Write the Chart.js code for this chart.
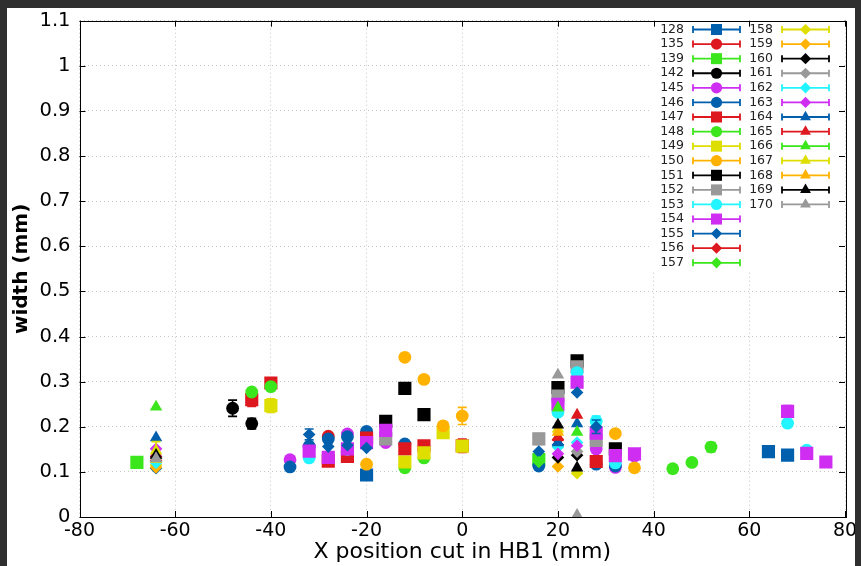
<!DOCTYPE html>
<html>
<head>
<meta charset="utf-8">
<script src="https://cdn.jsdelivr.net/npm/chart.js@4.4.0/dist/chart.umd.min.js"></script>
<style>
  html, body { margin: 0; padding: 0; background: #fff; }
  #wrap { position: relative; width: 861px; height: 566px; }
</style>
</head>
<body>
<div id="wrap"><canvas id="widthChart"></canvas></div>
<script>
// run numbers shown in the key
const runs = ['128', '135', '139', '142', '145', '146', '147', '148', '149', '150',
              '151', '152', '153', '154', '155', '156', '157', '158', '159', '160',
              '161', '162', '163', '164', '165', '166', '167', '168', '169', '170'];

// axis tick labels
const xTickLabels = ['-80', '-60', '-40', '-20', '0', '20', '40', '60', '80'];
const yTickLabels = ['0', '0.1', '0.2', '0.3', '0.4', '0.5', '0.6', '0.7', '0.8', '0.9', '1', '1.1'];

// per run: [x cut (mm), width (mm), error (mm)]
const r128 = [[-20, 0.093, 0], [64, 0.145, 0], [68, 0.137, 0]];
const r135 = [[-28, 0.179, 0], [-20, 0.176, 0]];
const r139 = [[-68, 0.121, 0], [16, 0.127, 0]];
const r142 = [[-48, 0.241, 0.018], [-44, 0.207, 0.012]];
const r145 = [[-36, 0.127, 0], [-32, 0.155, 0], [-24, 0.184, 0], [-16, 0.165, 0], [28, 0.151, 0], [32, 0.11, 0], [36, 0.135, 0]];
const r146 = [[-36, 0.111, 0], [-32, 0.157, 0], [-28, 0.173, 0], [-24, 0.178, 0], [-20, 0.19, 0], [-12, 0.162, 0], [16, 0.113, 0], [28, 0.117, 0], [32, 0.113, 0]];
const r147 = [[-44, 0.26, 0.015], [-40, 0.297, 0.01], [-28, 0.124, 0], [-24, 0.134, 0], [-20, 0.175, 0], [-12, 0.151, 0], [-8, 0.158, 0], [0, 0.158, 0.015], [28, 0.123, 0]];
const r148 = [[-44, 0.277, 0], [-40, 0.289, 0], [-12, 0.109, 0], [-8, 0.131, 0], [44, 0.107, 0], [48, 0.121, 0], [52, 0.155, 0.01]];
const r149 = [[-40, 0.247, 0.015], [-12, 0.122, 0], [-8, 0.142, 0], [-4, 0.187, 0], [0, 0.157, 0]];
const r150 = [[-20, 0.117, 0], [-12, 0.354, 0], [-8, 0.305, 0], [-4, 0.202, 0], [0, 0.224, 0.019], [32, 0.185, 0], [36, 0.109, 0]];
const r151 = [[-16, 0.212, 0], [-12, 0.285, 0], [-8, 0.227, 0], [20, 0.287, 0], [24, 0.346, 0], [32, 0.151, 0]];
const r152 = [[-16, 0.173, 0], [16, 0.173, 0.012], [20, 0.268, 0], [24, 0.333, 0], [28, 0.17, 0]];
const r153 = [[-32, 0.131, 0], [-24, 0.15, 0], [20, 0.232, 0], [24, 0.32, 0], [28, 0.212, 0.012], [32, 0.12, 0], [68, 0.208, 0], [72, 0.148, 0]];
const r154 = [[-32, 0.146, 0], [-28, 0.132, 0], [-24, 0.151, 0], [-20, 0.165, 0], [-16, 0.192, 0], [20, 0.25, 0], [24, 0.299, 0], [28, 0.186, 0], [32, 0.136, 0], [36, 0.14, 0], [68, 0.234, 0.013], [72, 0.141, 0], [76, 0.122, 0]];
const r155 = [[-64, 0.108, 0], [-32, 0.183, 0.012], [-28, 0.156, 0], [-24, 0.159, 0], [-20, 0.153, 0], [16, 0.145, 0], [20, 0.16, 0], [24, 0.276, 0], [28, 0.2, 0.015]];
const r156 = [[-64, 0.125, 0], [20, 0.172, 0]];
const r157 = [[-64, 0.122, 0], [16, 0.122, 0]];
const r158 = [[-64, 0.115, 0], [24, 0.097, 0]];
const r159 = [[-64, 0.11, 0], [20, 0.112, 0]];
const r160 = [[-64, 0.134, 0], [20, 0.132, 0], [24, 0.137, 0]];
const r161 = [[-64, 0.13, 0], [24, 0.145, 0]];
const r162 = [[-64, 0.12, 0], [20, 0.155, 0], [24, 0.165, 0]];
const r163 = [[-64, 0.151, 0], [20, 0.14, 0], [24, 0.158, 0]];
const r164 = [[-64, 0.176, 0], [20, 0.165, 0], [24, 0.207, 0]];
const r165 = [[-64, 0.14, 0], [20, 0.177, 0], [24, 0.226, 0]];
const r166 = [[-64, 0.244, 0], [20, 0.242, 0], [24, 0.188, 0]];
const r167 = [[-64, 0.147, 0.02], [20, 0.195, 0]];
const r168 = [[-64, 0.128, 0], [20, 0.188, 0]];
const r169 = [[-64, 0.137, 0], [20, 0.204, 0], [24, 0.109, 0]];
const r170 = [[-64, 0.13, 0], [20, 0.315, 0], [24, 0.004, 0]];

const runData = [r128, r135, r139, r142, r145, r146, r147, r148, r149, r150,
                 r151, r152, r153, r154, r155, r156, r157, r158, r159, r160,
                 r161, r162, r163, r164, r165, r166, r167, r168, r169, r170];

// gnuplot-like line types
const BLUE = '#0060ad', RED = '#dd181f', GREEN = '#3ce61c', BLACK = '#000000',
      MAGENTA = '#cf2df2', YELLOW = '#dede00', ORANGE = '#ffb300', GRAY = '#999999', CYAN = '#22f5ff';
const runColors = [BLUE, RED, GREEN, BLACK, MAGENTA, BLUE, RED, GREEN, YELLOW, ORANGE,
                   BLACK, GRAY, CYAN, MAGENTA, BLUE, RED, GREEN, YELLOW, ORANGE, BLACK,
                   GRAY, CYAN, MAGENTA, BLUE, RED, GREEN, YELLOW, ORANGE, BLACK, GRAY];
const runShapes = ['rect', 'circle', 'rect', 'circle', 'circle', 'circle', 'rect', 'circle', 'rect', 'circle',
                   'rect', 'rect', 'circle', 'rect', 'rectRot', 'rectRot', 'rectRot', 'rectRot', 'rectRot', 'rectRot',
                   'rectRot', 'rectRot', 'rectRot', 'triangle', 'triangle', 'triangle', 'triangle', 'triangle', 'triangle', 'triangle'];

const shapeSize = { rect: 9.3, circle: 6.4, rectRot: 6.3, triangle: 7.2 };
const keySize = { rect: 7.8, circle: 5.6, rectRot: 5.6, triangle: 6.3 };

const datasets = runs.map((run, i) => ({
    label: run,
    data: runData[i].map(p => ({ x: p[0], y: p[1], err: p[2] })),
    pointStyle: runShapes[i],
    pointRadius: shapeSize[runShapes[i]],
    backgroundColor: runColors[i],
    borderColor: runColors[i],
    borderWidth: 0,
    order: -i   // later runs on top
}));

// error bars, frame with inward ticks, opaque key
const gnuplotLook = {
    id: 'gnuplotLook',
    afterDatasetDraw(chart, args) {
        const ctx = chart.ctx;
        const yScale = chart.scales.y;
        const ds = chart.data.datasets[args.index];
        ctx.save();
        ctx.strokeStyle = ds.borderColor;
        ctx.lineWidth = 1.6;
        args.meta.data.forEach((el, j) => {
            const p = ds.data[j];
            if (!p.err) return;
            const top = yScale.getPixelForValue(p.y + p.err);
            const bot = yScale.getPixelForValue(p.y - p.err);
            ctx.beginPath();
            ctx.moveTo(el.x, top); ctx.lineTo(el.x, bot);
            ctx.moveTo(el.x - 4.5, top); ctx.lineTo(el.x + 4.5, top);
            ctx.moveTo(el.x - 4.5, bot); ctx.lineTo(el.x + 4.5, bot);
            ctx.stroke();
        });
        ctx.restore();
    },
    beforeDatasetsDraw(chart) {
        // key box hides the grid behind it
        const ctx = chart.ctx;
        ctx.save();
        ctx.fillStyle = '#fff';
        ctx.fillRect(651, 19, 190, 253);
        ctx.restore();
    },
    afterDraw(chart) {
        const ctx = chart.ctx;
        const a = chart.chartArea;
        const xs = chart.scales.x, ys = chart.scales.y;
        ctx.save();

        // border
        ctx.strokeStyle = '#000';
        ctx.lineWidth = 1;
        ctx.strokeRect(Math.round(a.left) + 0.5, Math.round(a.top) + 0.5,
                       Math.round(a.right - a.left), Math.round(a.bottom - a.top));

        // inward major ticks on all four sides
        ctx.beginPath();
        xs.ticks.forEach(t => {
            const px = Math.round(xs.getPixelForValue(t.value)) + 0.5;
            ctx.moveTo(px, a.bottom); ctx.lineTo(px, a.bottom - 6);
            ctx.moveTo(px, a.top); ctx.lineTo(px, a.top + 6);
        });
        ys.ticks.forEach(t => {
            const py = Math.round(ys.getPixelForValue(t.value)) + 0.5;
            ctx.moveTo(a.left, py); ctx.lineTo(a.left + 6, py);
            ctx.moveTo(a.right, py); ctx.lineTo(a.right - 6, py);
        });
        ctx.stroke();

        // key: two columns, 17 rows in the first
        ctx.font = '12.5px "DejaVu Sans"';
        ctx.textAlign = 'right';
        ctx.textBaseline = 'middle';
        runs.forEach((run, i) => {
            const col = i < 17 ? 0 : 1;
            const row = col ? i - 17 : i;
            const y = 29.5 + row * 14.58;
            const textRight = col ? 773 : 684;
            const x0 = col ? 782 : 693;
            const x1 = col ? 829 : 740;
            ctx.fillStyle = '#222';
            ctx.fillText(run, textRight, y);
            ctx.strokeStyle = runColors[i];
            ctx.lineWidth = 1.8;
            ctx.beginPath();
            ctx.moveTo(x0, y); ctx.lineTo(x1, y);
            ctx.moveTo(x0, y - 3.5); ctx.lineTo(x0, y + 3.5);
            ctx.moveTo(x1, y - 3.5); ctx.lineTo(x1, y + 3.5);
            ctx.stroke();
            ctx.fillStyle = runColors[i];
            Chart.helpers.drawPoint(ctx, {
                pointStyle: runShapes[i], radius: keySize[runShapes[i]], rotation: 0, borderWidth: 0
            }, (x0 + x1) / 2, y);
        });

        // dark window edges
        ctx.fillStyle = '#2f2f2f';
        ctx.fillRect(0, 0, chart.width, 8);
        ctx.fillRect(0, 0, 7, chart.height);
        ctx.fillRect(855, 0, chart.width - 855, chart.height);
        ctx.restore();
    }
};

const gridStyle = { color: '#c4c4c4', lineWidth: 1, drawTicks: false };

new Chart(document.getElementById('widthChart'), {
    type: 'scatter',
    data: { datasets: datasets },
    options: {
        responsive: true,
        maintainAspectRatio: false,
        animation: false,
        layout: { padding: { left: 0, right: 16, top: 17, bottom: 0 } },
        plugins: {
            legend: { display: false },
            tooltip: { enabled: false }
        },
        scales: {
            x: {
                min: -80,
                max: 80,
                afterBuildTicks: scale => { scale.ticks = xTickLabels.map(v => ({ value: parseFloat(v) })); },
                afterFit: scale => { scale.height = 49; },
                grid: gridStyle,
                border: { display: false, dash: [1, 3] },
                ticks: {
                    padding: 3,
                    color: '#000',
                    font: { family: 'DejaVu Sans', size: 19 },
                    maxRotation: 0,
                    callback: (v, i) => xTickLabels[i]
                },
                title: {
                    display: true,
                    text: 'X position cut in HB1 (mm)',
                    color: '#000',
                    font: { family: 'DejaVu Sans', size: 22 },
                    padding: { top: 0, bottom: 1 }
                }
            },
            y: {
                min: 0,
                max: 1.1,
                afterBuildTicks: scale => { scale.ticks = yTickLabels.map(v => ({ value: parseFloat(v) })); },
                afterFit: scale => { scale.width = 79.5; },
                grid: gridStyle,
                border: { display: false, dash: [1, 3] },
                ticks: {
                    padding: 9,
                    color: '#000',
                    font: { family: 'DejaVu Sans', size: 19.5 },
                    callback: (v, i) => yTickLabels[i]
                },
                title: {
                    display: true,
                    text: 'width (mm)',
                    color: '#000',
                    font: { family: 'DejaVu Sans', size: 20, weight: 'bold' },
                    padding: { top: 10, bottom: 0 }
                }
            }
        }
    },
    plugins: [gnuplotLook]
});
</script>
</body>
</html>
